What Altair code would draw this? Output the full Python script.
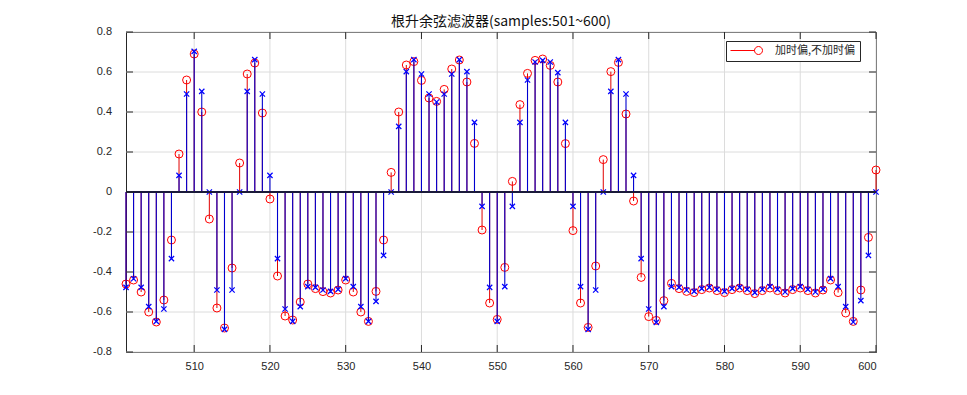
import altair as alt
import pandas as pd

samples = list(range(501, 601))

# 加时偏 (red circles)
with_offset = [
    -0.46, -0.44, -0.50, -0.60, -0.65, -0.54, -0.24, 0.19, 0.56, 0.69,
    0.40, -0.135, -0.58, -0.68, -0.38, 0.145, 0.59, 0.645, 0.395, -0.035,
    -0.42, -0.62, -0.64, -0.55, -0.46, -0.483, -0.498, -0.505, -0.49, -0.44,
    -0.50, -0.60, -0.647, -0.497, -0.24, 0.098, 0.40, 0.635, 0.652, 0.558,
    0.47, 0.453, 0.513, 0.615, 0.66, 0.55, 0.243, -0.19, -0.555, -0.637,
    -0.377, 0.053, 0.437, 0.593, 0.658, 0.665, 0.633, 0.55, 0.242, -0.193,
    -0.555, -0.677, -0.37, 0.162, 0.602, 0.648, 0.39, -0.045, -0.427, -0.623,
    -0.642, -0.543, -0.457, -0.483, -0.497, -0.503, -0.488, -0.48, -0.493, -0.503,
    -0.488, -0.48, -0.493, -0.508, -0.493, -0.48, -0.493, -0.505, -0.488, -0.48,
    -0.493, -0.505, -0.49, -0.44, -0.503, -0.605, -0.647, -0.49, -0.227, 0.11,
]

# 不加时偏 (blue crosses)
without_offset = [
    -0.477, -0.434, -0.477, -0.573, -0.647, -0.585, -0.333, 0.083, 0.49, 0.703,
    0.503, 0.0, -0.49, -0.687, -0.49, 0.0, 0.503, 0.662, 0.49, 0.083,
    -0.333, -0.585, -0.647, -0.573, -0.473, -0.477, -0.49, -0.497, -0.487, -0.433,
    -0.473, -0.573, -0.647, -0.547, -0.317, 0.0, 0.328, 0.602, 0.662, 0.59,
    0.49, 0.45, 0.49, 0.59, 0.662, 0.602, 0.348, -0.072, -0.477, -0.647,
    -0.473, -0.072, 0.348, 0.56, 0.65, 0.658, 0.65, 0.597, 0.348, -0.072,
    -0.473, -0.687, -0.49, 0.0, 0.503, 0.662, 0.49, 0.083, -0.333, -0.585,
    -0.652, -0.573, -0.473, -0.477, -0.49, -0.497, -0.483, -0.477, -0.487, -0.497,
    -0.483, -0.477, -0.487, -0.503, -0.487, -0.473, -0.487, -0.50, -0.483, -0.473,
    -0.487, -0.50, -0.487, -0.433, -0.473, -0.573, -0.65, -0.543, -0.317, 0.0,
]

x_ticks = [510, 520, 530, 540, 550, 560, 570, 580, 590, 600]
y_ticks = [-0.8, -0.6, -0.4, -0.2, 0.0, 0.2, 0.4, 0.6, 0.8]
y_tick_labels = ["-0.8", "-0.6", "-0.4", "-0.2", "0", "0.2", "0.4", "0.6", "0.8"]
legend_label = "加时偏,不加时偏"
title_text = "根升余弦滤波器(samples:501~600)"

df = pd.DataFrame({"n": samples, "red": with_offset, "blue": without_offset,
                   "label": [legend_label] * len(samples)})
xt = pd.DataFrame({"v": x_ticks})
yt = pd.DataFrame({"v": y_ticks, "t": y_tick_labels})

W, H = 750, 320
AX = "#262626"
RED = "#ff0000"
BLUE = "#0000ff"
GRID = "#dcdcdc"

xscale = alt.Scale(domain=[501, 600], nice=False, zero=False)
yscale = alt.Scale(domain=[-0.8, 0.8], nice=False, zero=False)
xaxis = alt.Axis(values=x_ticks, format="d", title=None, grid=False, ticks=False,
                 domain=False, labelPadding=8, labelOverlap=False)
yaxis = alt.Axis(values=y_ticks, title=None, grid=False, ticks=False, domain=False,
                 labels=False)


def X(f):
    return alt.X(f, type="quantitative", scale=xscale, axis=xaxis)


def Y(f):
    return alt.Y(f, type="quantitative", scale=yscale, axis=yaxis)


base = alt.Chart(df)

# grid lines drawn from the tick lists
x_grid = alt.Chart(xt).mark_rule(color=GRID, strokeWidth=1).encode(
    x=X("v"), y=alt.value(0), y2=alt.value(H))
y_grid = alt.Chart(yt).mark_rule(color=GRID, strokeWidth=1).encode(
    y=Y("v"), x=alt.value(0), x2=alt.value(W))

y_labels = alt.Chart(yt).mark_text(
    align="right", baseline="middle", font="Liberation Sans", fontSize=11,
    color=AX, dx=-14).encode(y=Y("v"), x=alt.value(0), text="t:N")

red_stems = base.mark_rule(color="#e00000", strokeWidth=1).encode(
    x=X("n"), y=Y("red"), y2=alt.datum(0))

red_pts = base.mark_point(shape="circle", filled=False, size=64, strokeWidth=1,
                          opacity=1).encode(
    x=X("n"), y=Y("red"),
    color=alt.Color("label:N", scale=alt.Scale(domain=[legend_label], range=[RED]),
                    legend=alt.Legend(
                        title=None, orient="none", legendX=600, legendY=9,
                        strokeColor=AX, fillColor="white", padding=4,
                        cornerRadius=0,
                        symbolType="M-7,0L-1,0M1,0A1,1,0,1,1,-1,0A1,1,0,1,1,1,0",
                        symbolSize=64, symbolStrokeWidth=1, symbolOffset=23,
                        labelOffset=11, labelFont="Noto Sans CJK SC",
                        labelFontSize=11, labelColor=AX)))

blue_stems = base.mark_rule(color="#0000d0", strokeWidth=1.1).encode(
    x=X("n"), y=Y("blue"), y2=alt.datum(0))

blue_pts = base.mark_point(shape="M-1,-1L1,1M-1,1L1,-1", filled=False, size=28,
                           strokeWidth=1.2, color=BLUE, opacity=1).encode(
    x=X("n"), y=Y("blue"))

baseline = base.mark_rule(color="#1a1a3a", strokeWidth=1).encode(y=alt.datum(0))

xt_top = alt.Chart(xt).mark_rule(color=AX).encode(
    x=X("v"), y=alt.value(0), y2=alt.value(7))
xt_bot = alt.Chart(xt).mark_rule(color=AX).encode(
    x=X("v"), y=alt.value(H - 7), y2=alt.value(H))
yt_left = alt.Chart(yt).mark_rule(color=AX).encode(
    y=Y("v"), x=alt.value(0), x2=alt.value(7))
yt_right = alt.Chart(yt).mark_rule(color=AX).encode(
    y=Y("v"), x=alt.value(W - 7), x2=alt.value(W))

chart = alt.layer(
    x_grid, y_grid, y_labels,
    red_stems, red_pts, blue_stems, blue_pts, baseline,
    xt_top, xt_bot, yt_left, yt_right,
).properties(
    width=W, height=H,
    title=alt.Title(title_text, font="Noto Sans CJK SC", fontSize=14,
                    fontWeight="normal", color="#111111", offset=0, dy=3),
    autosize=alt.AutoSizeParams(type="none"),
    padding={"left": 118, "top": 24, "right": 40, "bottom": 30},
).configure_view(
    stroke=AX, strokeWidth=1
).configure_axis(
    labelFont="Liberation Sans", labelFontSize=11, labelColor=AX
)

chart.save("out.html", embed_options={"renderer": "svg", "actions": False})
